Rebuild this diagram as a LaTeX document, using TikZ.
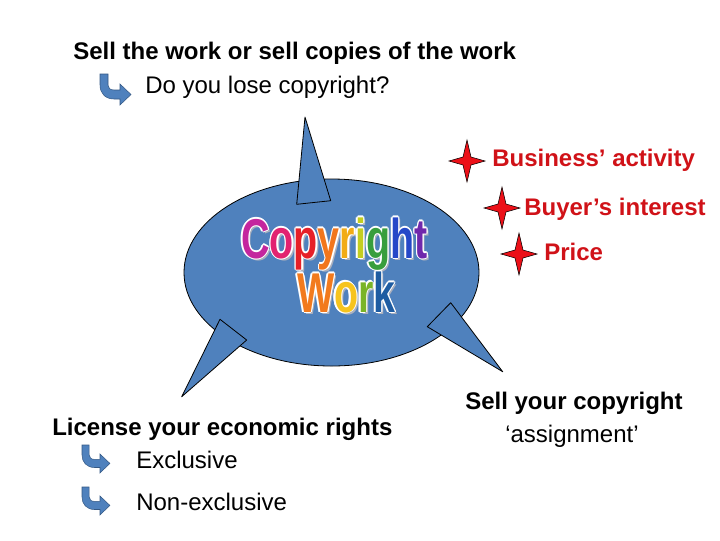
\documentclass[tikz,border=0pt]{standalone}
\usepackage{fontspec}
\setmainfont{Liberation Sans}
\definecolor{bubbleblue}{RGB}{79,129,189}
\definecolor{arrowline}{RGB}{52,88,132}
\definecolor{starred}{RGB}{236,16,24}
\definecolor{pointred}{RGB}{208,18,24}
\definecolor{artshadow}{RGB}{170,176,190}
% letter colours of the word art
\definecolor{laC}{RGB}{196,38,158}
\definecolor{lao}{RGB}{226,34,112}
\definecolor{lap}{RGB}{230,32,40}
\definecolor{lay}{RGB}{242,118,28}
\definecolor{lar}{RGB}{242,172,22}
\definecolor{lai}{RGB}{196,206,32}
\definecolor{lag}{RGB}{56,158,60}
\definecolor{lah}{RGB}{38,72,200}
\definecolor{lat}{RGB}{112,40,172}
\definecolor{lbW}{RGB}{242,122,30}
\definecolor{lbo}{RGB}{246,196,30}
\definecolor{lbr}{RGB}{122,180,40}
\definecolor{lbk}{RGB}{30,92,162}

\tikzset{
  bentarrow/.pic={
    \draw [yscale=-1, fill=bubbleblue, draw=arrowline, line width=0.4pt]
      (0,0) -- (8,0) -- (8,11) .. controls (8,14) and (10,16) .. (14,16) -- (20,16) -- (20,10)
      -- (31,20.5) -- (20,31) -- (20,25) -- (14,25) .. controls (5,25) and (0,19) .. (0,11) -- cycle;
  },
  redstar/.pic={
    \draw [fill=starred, draw=black, line width=0.4pt]
      (0,-21) -- (4,-4) -- (18,0) -- (4,4) -- (0,21) -- (-4,4) -- (-18,0) -- (-4,-4) -- cycle;
  }
}

\begin{document}
\begin{tikzpicture}[x=0.75pt,y=0.75pt,yscale=-1,xscale=1,
  bubble/.style={fill=bubbleblue, draw=black, line width=0.6pt, line join=round},
  heading/.style={anchor=base west, inner sep=0pt, font=\fontsize{18}{21}\selectfont\bfseries},
  plain/.style={anchor=base west, inner sep=0pt, font=\fontsize{18}{21}\selectfont},
  point/.style={heading, text=pointred},
  wordart/.style={anchor=base west, inner sep=0pt, xscale=1.02, yscale=1.45, font=\fontsize{29}{30}\selectfont\bfseries}]
  \useasboundingbox (0,0) rectangle (720,540);

  %Shape: Ellipse
  \draw [bubble] (331.5,272.5) ellipse (147.5 and 93.5);
  %Shape: Triangle (top spike)
  \draw [bubble] (296.7,204.3) -- (305,117) -- (330.7,200.7) -- cycle;
  %Shape: Triangle (lower left spike)
  \draw [bubble] (220,319.3) -- (181.7,396.7) -- (246.7,340) -- cycle;
  %Shape: Triangle (lower right spike)
  \draw [bubble] (427.3,326.7) -- (450.7,302.7) -- (502.7,371.7) -- cycle;

  % Word art: shadow, white rim, letters
  \node [wordart, text=artshadow] (cpshadow) at (243.5,260) {Copyright};
  \node [wordart, text=artshadow] (wkshadow) at (299.5,314) {Work};
  \foreach \dx/\dy in {-1.3/0, 1.3/0, 0/-1.3, 0/1.3, -0.9/-0.9, 0.9/0.9, -0.9/0.9, 0.9/-0.9}{
    \node [wordart, text=white] (cprim) at ([shift={(\dx,\dy)}]241,258) {Copyright};
    \node [wordart, text=white] (wkrim) at ([shift={(\dx,\dy)}]297,312) {Work};
  }
  \node [wordart] (copyright) at (241,258) {\textcolor{laC}{C}\textcolor{lao}{o}\textcolor{lap}{p}\textcolor{lay}{y}\textcolor{lar}{r}\textcolor{lai}{i}\textcolor{lag}{g}\textcolor{lah}{h}\textcolor{lat}{t}};
  \node [wordart] (work) at (297,312) {\textcolor{lbW}{W}\textcolor{lbo}{o}\textcolor{lbr}{r}\textcolor{lbk}{k}};

  % Text Node
  \node [heading] (sellwork) at (73,59) {Sell the work or sell copies of the work};
  \pic at (100,74) {bentarrow};
  % Text Node
  \node [plain] (lose) at (145,93) {Do you lose copyright?};

  % Red points
  \pic at (467,161) {redstar};
  \node [point] (business) at (492,166) {Business’ activity};
  \pic at (502,208) {redstar};
  \node [point] (buyer) at (524,215) {Buyer’s interest};
  \pic at (519,254) {redstar};
  \node [point] (price) at (544,260) {Price};

  % Text Node
  \node [heading] (sellcopy) at (465,409) {Sell your copyright};
  \node [plain] (assign) at (505,442) {‘assignment’};

  % Text Node
  \node [heading] (license) at (52,435) {License your economic rights};
  \pic [scale=0.9] at (82,445) {bentarrow};
  \node [plain] (exclusive) at (136,468) {Exclusive};
  \pic [scale=0.9] at (82,487) {bentarrow};
  \node [plain] (nonexclusive) at (136,510) {Non-exclusive};
\end{tikzpicture}
\end{document}
